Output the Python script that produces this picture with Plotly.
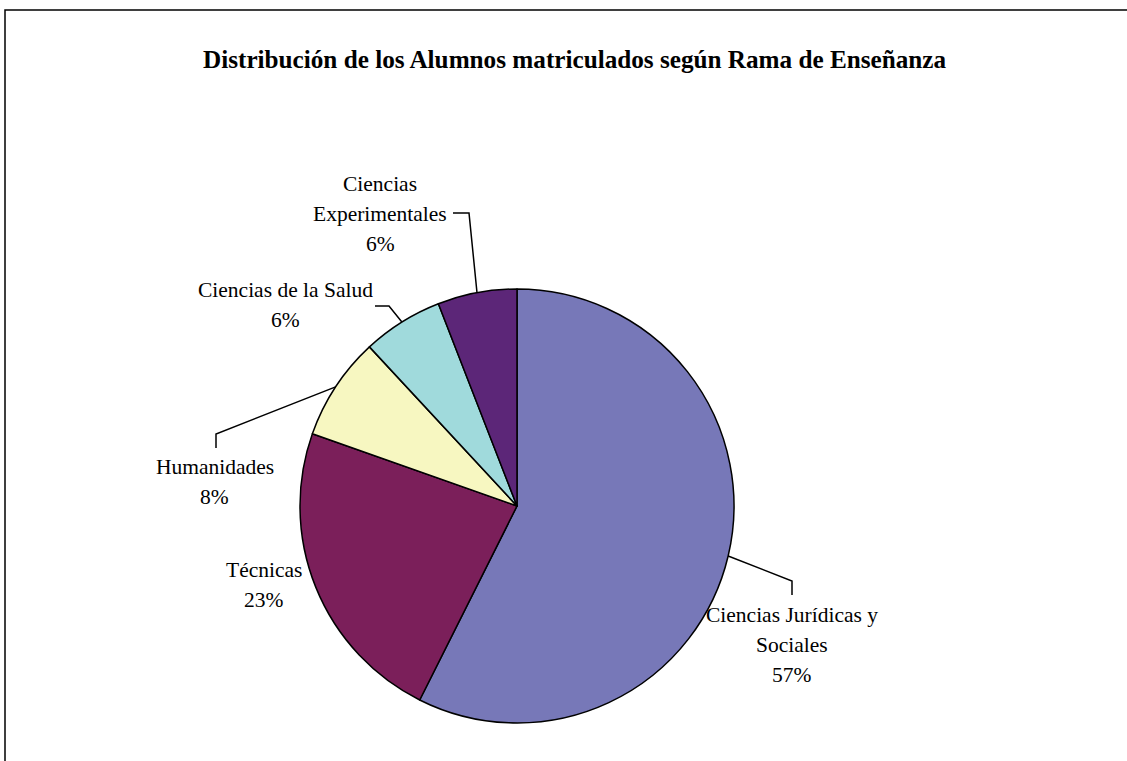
import math
import plotly.graph_objects as go

# ---- data ----
categories = ["Ciencias Jurídicas y Sociales", "Técnicas", "Humanidades",
              "Ciencias de la Salud", "Ciencias Experimentales"]
label_lines = [["Ciencias Jurídicas y", "Sociales"], ["Técnicas"], ["Humanidades"],
               ["Ciencias de la Salud"], ["Ciencias", "Experimentales"]]
values = [57.4, 23.0, 7.7, 6.0, 5.9]
colors = ["#7778B8", "#7B1F5A", "#F7F7C1", "#A0DADC", "#5C2678"]
title_text = "Distribución de los Alumnos matriculados según Rama de Enseñanza"

# ---- layout (pixels) ----
W, H = 1127, 761
CX, CY, R = 517, 506, 217
label_centers = [(792, 645), (264, 585), (215, 482), (285, 305), (380, 214)]
leader_tails = [[(792, 581), (792, 595)], [], [(216, 434), (216, 448)],
                [(389, 306), (375, 306)], [(469, 213), (453, 213)]]
FONT = "Liberation Serif, Times New Roman, serif"
LINE_GAP = 30


def px(x):
    return x / W


def py(y):
    return 1 - y / H


fig = go.Figure(go.Pie(
    labels=categories, values=values, sort=False, direction="clockwise",
    rotation=0, textinfo="none", hoverinfo="label+percent",
    marker=dict(colors=colors, line=dict(color="black", width=1.5)),
    domain=dict(x=[px(CX - R), px(CX + R)], y=[py(CY + R), py(CY - R)]),
    showlegend=False,
))

total = sum(values)
annotations = []
shapes = []
cum = 0.0
for i, v in enumerate(values):
    mid = 2 * math.pi * (cum + v / 2) / total
    cum += v
    ex, ey = CX + R * math.sin(mid), CY - R * math.cos(mid)
    pct = f"{round(v / total * 100)}%"
    lines = label_lines[i] + [pct]
    lx, ly = label_centers[i]
    n = len(lines)
    for j, t in enumerate(lines):
        yy = ly + (j - (n - 1) / 2) * LINE_GAP
        annotations.append(dict(x=px(lx), y=py(yy), xref="paper", yref="paper",
                                text=t, showarrow=False, xanchor="center", yanchor="middle",
                                font=dict(family=FONT, size=21.5, color="black")))
    if leader_tails[i]:
        pts = [(ex, ey)] + leader_tails[i]
        path = "M " + " L ".join(f"{px(a)},{py(b)}" for a, b in pts)
        shapes.append(dict(type="path", path=path, xref="paper", yref="paper",
                           line=dict(color="black", width=1.5)))

annotations.append(dict(x=px(574.5), y=py(60), xref="paper", yref="paper",
                        text=f"<b>{title_text}</b>", showarrow=False,
                        xanchor="center", yanchor="middle",
                        font=dict(family=FONT, size=25.2, color="black")))

shapes.append(dict(type="rect", xref="paper", yref="paper",
                   x0=px(5), y0=py(10), x1=1.05, y1=-0.05,
                   line=dict(color="black", width=1.5), fillcolor="rgba(0,0,0,0)"))

fig.update_layout(width=W, height=H, margin=dict(l=0, r=0, t=0, b=0),
                  paper_bgcolor="white", plot_bgcolor="white",
                  annotations=annotations, shapes=shapes)
fig.write_html("out.html", config={"displayModeBar": False},
               post_script="document.body.style.margin='0';document.body.style.overflow='hidden';")
